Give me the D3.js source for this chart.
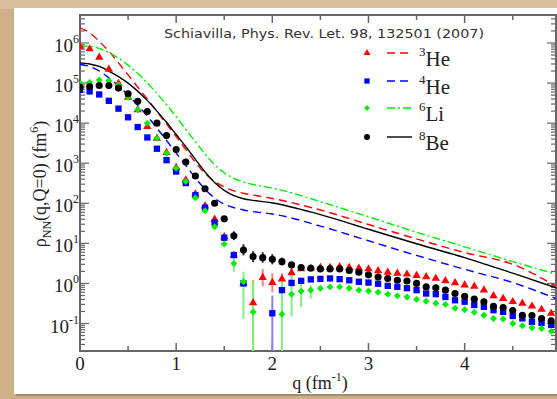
<!DOCTYPE html>
<meta charset="utf-8">
<script src="https://d3js.org/d3.v7.min.js"></script>
<style>
  body { margin: 0; background: #cdb089; }
  svg { display: block; }
</style>
<div id="chart"></div>
<script>

  // ---- data ----
  const nuclei = ["3He", "4He", "6Li", "8Be"];

  // momentum grid for the points (fm^-1)
  const qPts = [0, 0.1, 0.2, 0.3, 0.4, 0.5, 0.6, 0.7, 0.8, 0.9, 1.0, 1.1, 1.2, 1.3, 1.4, 1.5, 1.6, 1.7, 1.8, 1.9,
                2.0, 2.1, 2.2, 2.3, 2.4, 2.5, 2.6, 2.7, 2.8, 2.9, 3.0, 3.1, 3.2, 3.3, 3.4, 3.5, 3.6, 3.7, 3.8, 3.9,
                4.0, 4.1, 4.2, 4.3, 4.4, 4.5, 4.6, 4.7, 4.8, 4.9];

  // VMC points (null = not shown)
  const he3Pts = [8.2e5, 7.1e5, 4.4e5, 2.2e5, 9.8e4, 4.4e4, 2.15e4, 8.2e3, 4.2e3, 1.84e3, 780, 380, 170, 85, 40, 14.6, 5.0, 1.0, 0.33, 1.4,
                  1.05, 1.28, 1.84, 2.3, 2.4, 2.5, 2.5, 2.6, 2.5, 2.4, 2.3, 2.07, 1.9, 1.78, 1.7, 1.58, 1.46, 1.33, 1.16, 1.03,
                  0.91, 0.85, 0.68, 0.49, 0.42, 0.35, 0.32, 0.27, 0.224, 0.178];
  const he4Pts = [6.8e4, 6.2e4, 5.2e4, 3.6e4, 2.3e4, 1.4e4, 8.0e3, 4.4e3, 2.3e3, 1.19e3, 620, 320, 160, 78, 33, 13.8, 5.1, 1.0, null, null,
                  0.18, 0.68, 1.03, 1.16, 1.26, 1.3, 1.33, 1.28, 1.2, 1.1, 1.05, 0.98, 0.87, 0.82, 0.76, 0.68, 0.56, 0.54, 0.46, 0.38,
                  0.35, 0.29, 0.26, 0.215, 0.195, 0.154, 0.134, 0.11, 0.104, 0.092];
  const li6Pts = [1.0e5, 1.03e5, 1.2e5, 1.15e5, 9.1e4, 4.4e4, 2.15e4, 1.0e4, 4.2e3, 1.78e3, 750, 350, 138, 65, 26, 9.6, 3.16, 1.1, 0.195, null,
                  null, 0.17, 0.54, 0.64, 0.68, 0.76, 0.82, 0.82, 0.76, 0.68, 0.65, 0.6, 0.54, 0.49, 0.46, 0.40, 0.36, 0.32, 0.30, 0.24,
                  0.22, 0.19, 0.16, 0.134, 0.13, 0.10, 0.088, 0.078, 0.075, 0.0635];
  const be8Pts = [7.8e4, 8.2e4, 8.7e4, 8.7e4, 7.5e4, 5.4e4, 3.5e4, 1.95e4, 1.0e4, 4.9e3, 2.2e3, 1.07e3, 480, 230, 100, 41, 15.5, 6.8, 4.7, 4.4,
                  4.0, 3.5, 2.9, 2.5, 2.4, 2.3, 2.3, 2.3, 2.1, 1.9, 1.64, 1.44, 1.33, 1.2, 1.15, 1.0, 0.82, 0.78, 0.68, 0.56,
                  0.48, 0.41, 0.35, 0.27, 0.25, 0.21, 0.16, 0.158, 0.133, 0.116];

  // error bars [q, low, high]
  const he3Err = [[1.8, 0.02, 1.2], [1.9, 0.85, 2.3], [2.0, 0.6, 1.8], [2.1, 0.9, 1.8], [2.2, 1.4, 2.4]];
  const he4Err = [[2.0, 0.02, 0.5], [2.1, 0.38, 1.4], [2.2, 0.8, 1.3]];
  const li6Err = [[1.6, 1.95, 4.4], [1.7, 0.13, 1.95], [1.8, 0.02, 1.1], [2.1, 0.02, 1.2], [2.2, 0.15, 1.6], [2.3, 0.26, 1.1], [2.4, 0.42, 0.9]];
  const be8Err = [[1.6, 12, 20], [1.7, 5.0, 9.5], [1.8, 3.4, 6.4], [1.9, 3.3, 6.0], [2.0, 3.0, 5.4], [2.1, 2.8, 4.4]];

  // curves
  const qLine = [0, 0.1, 0.2, 0.3, 0.4, 0.5, 0.6, 0.7, 0.8, 0.9, 1.0, 1.1, 1.2, 1.3, 1.4, 1.5, 1.6, 1.7, 1.8, 1.9, 2.0,
                 2.5, 3.0, 3.5, 4.0, 4.5, 4.95];
  const he3Line = [2.4e6, 1.8e6, 1.1e6, 6.2e5, 3.2e5, 1.6e5, 8.0e4, 4.0e4, 1.95e4, 9.5e3, 4.6e3, 2.2e3, 1.05e3, 560, 350, 255, 205, 178, 160, 146, 132,
                   68, 29.5, 12.9, 5.9, 3.0, 0.85];
  const he4Line = [2.9e5, 2.6e5, 2.0e5, 1.35e5, 8.5e4, 5.0e4, 2.8e4, 1.5e4, 7.5e3, 3.7e3, 1.8e3, 880, 430, 225, 135, 95, 78, 68, 62, 58, 54,
                   27, 11.6, 5.0, 2.25, 1.05, 0.42];
  const li6Line = [8.5e5, 8.3e5, 7.3e5, 5.8e5, 4.2e5, 2.8e5, 1.75e5, 1.0e5, 5.5e4, 2.9e4, 1.45e4, 7.0e3, 3.4e3, 1.7e3, 920, 580, 420, 340, 295, 265, 240,
                   110, 46, 19, 8.2, 3.5, 1.7];
  const be8Line = [3.2e5, 3.0e5, 2.6e5, 2.0e5, 1.45e5, 1.0e5, 6.3e4, 3.7e4, 2.0e4, 1.05e4, 5.2e3, 2.6e3, 1.25e3, 610, 330, 210, 155, 130, 118, 110, 102,
                   52, 22.5, 9.8, 4.4, 1.8, 0.78];

  const xTicks = [0, 1, 2, 3, 4];
  const yExps = [-1, 0, 1, 2, 3, 4, 5, 6];

  // ---- layout ----
  const W = 557, H = 399;
  const pL = 80, pR = 556, pT = 15, pB = 351;

  const svg = d3.select("#chart").append("svg")
    .attr("width", W).attr("height", H);

  // paper background
  svg.append("rect").attr("width", W).attr("height", H).attr("fill", "#cdb089");
  svg.append("rect").attr("x", 0).attr("y", 0).attr("width", W).attr("height", 9).attr("fill", "#d9c09c");
  svg.append("rect").attr("x", 16).attr("y", 11).attr("width", W).attr("height", 385).attr("fill", "#7a6a55").attr("opacity", 0.5);
  svg.append("rect").attr("x", 14).attr("y", 8).attr("width", W).attr("height", 386).attr("fill", "#fff");

  const x = d3.scaleLinear().domain([0, 4.95]).range([pL, pR]);
  const y = d3.scaleLog().domain([0.0206, 5.0e6]).range([pB, pT]);

  const axisColor = "#666";

  // ticks
  const g = svg.append("g");
  const xMinor = d3.range(0.5, 4.95, 1);
  xTicks.concat(xMinor).forEach(t => {
    const len = Number.isInteger(t) ? 8 : 5;
    g.append("line").attr("x1", x(t)).attr("x2", x(t)).attr("y1", pB).attr("y2", pB - len)
      .attr("stroke", axisColor).attr("stroke-width", 1.5);
    g.append("line").attr("x1", x(t)).attr("x2", x(t)).attr("y1", pT).attr("y2", pT + len)
      .attr("stroke", axisColor).attr("stroke-width", 1.5);
  });
  for (let e = -2; e <= 6; e++) {
    for (let m = 1; m <= 9; m++) {
      const v = m * Math.pow(10, e);
      if (v < y.domain()[0] || v > y.domain()[1]) continue;
      const len = m === 1 ? 9 : 5;
      g.append("line").attr("x1", pL).attr("x2", pL + len).attr("y1", y(v)).attr("y2", y(v))
        .attr("stroke", axisColor).attr("stroke-width", 1.2);
      g.append("line").attr("x1", pR).attr("x2", pR - len).attr("y1", y(v)).attr("y2", y(v))
        .attr("stroke", axisColor).attr("stroke-width", 1.2);
    }
  }
  // frame
  g.append("rect").attr("x", pL).attr("y", pT).attr("width", pR - pL).attr("height", pB - pT)
    .attr("fill", "none").attr("stroke", axisColor).attr("stroke-width", 2);

  // tick labels
  const serif = "'Liberation Serif', 'DejaVu Serif', serif";
  svg.append("g").selectAll("text").data(xTicks).join("text")
    .attr("x", d => x(d)).attr("y", 370)
    .attr("text-anchor", "middle").attr("font-family", serif).attr("font-size", 19).attr("fill", "#222")
    .text(d => d);

  const yl = svg.append("g").selectAll("text").data(yExps).join("text")
    .attr("x", 79).attr("y", d => y(Math.pow(10, d)) + 9)
    .attr("text-anchor", "end").attr("font-family", serif).attr("font-size", 19).attr("fill", "#222");
  yl.append("tspan").text("10");
  yl.append("tspan").attr("dy", -9).attr("font-size", 12).text(d => d);

  // axis titles
  const xt = svg.append("text").attr("x", 320).attr("y", 389).attr("text-anchor", "middle")
    .attr("font-family", serif).attr("font-size", 18).attr("fill", "#222");
  xt.append("tspan").text("q (fm");
  xt.append("tspan").attr("dy", -8).attr("font-size", 12).text("-1");
  xt.append("tspan").attr("dy", 8).text(")");

  const yt = svg.append("text").attr("transform", "translate(46,184) rotate(-90)").attr("text-anchor", "middle")
    .attr("font-family", serif).attr("font-size", 18).attr("fill", "#222");
  yt.append("tspan").text("ρ");
  yt.append("tspan").attr("dy", 5).attr("font-size", 12).text("NN");
  yt.append("tspan").attr("dy", -5).text("(q,Q=0) (fm");
  yt.append("tspan").attr("dy", -8).attr("font-size", 12).text("6");
  yt.append("tspan").attr("dy", 8).text(")");

  // title
  svg.append("text").attr("x", 324).attr("y", 38).attr("text-anchor", "middle")
    .attr("font-family", "'DejaVu Sans', sans-serif").attr("font-size", 13).attr("fill", "#333")
    .attr("textLength", 320).attr("lengthAdjust", "spacingAndGlyphs")
    .text("Schiavilla, Phys. Rev. Let. 98, 132501 (2007)");

  // series (green markers are small squares turned 45 degrees)
  const series = [
    {name: nuclei[0], pts: he3Pts, err: he3Err, line: he3Line, color: "#ff0000", errColor: "#ff8080", dash: "8,5", sym: d3.symbolTriangle, size: 30, rot: 0},
    {name: nuclei[1], pts: he4Pts, err: he4Err, line: he4Line, color: "#0000ff", errColor: "#8080ff", dash: "8,5", sym: d3.symbolSquare, size: 40, rot: 0},
    {name: nuclei[2], pts: li6Pts, err: li6Err, line: li6Line, color: "#00ee00", errColor: "#80f080", dash: "8,3,2,3", sym: d3.symbolSquare, size: 24, rot: 45},
    {name: nuclei[3], pts: be8Pts, err: be8Err, line: be8Line, color: "#000000", errColor: "#333333", dash: null, sym: d3.symbolCircle, size: 40, rot: 0}
  ];

  const plot = svg.append("g");
  plot.append("clipPath").attr("id", "clip").append("rect")
    .attr("x", pL).attr("y", pT).attr("width", pR - pL).attr("height", pB - pT);
  const inner = plot.append("g").attr("clip-path", "url(#clip)");

  const lineGen = d3.line().x(d => x(d[0])).y(d => y(d[1])).curve(d3.curveMonotoneX);

  // lines
  series.forEach(s => {
    inner.append("path")
      .datum(qLine.map((q, i) => [q, s.line[i]]))
      .attr("d", lineGen)
      .attr("fill", "none").attr("stroke", s.color).attr("stroke-width", 1.4)
      .attr("stroke-dasharray", s.dash);
  });

  // error bars
  series.forEach(s => {
    inner.append("g").selectAll("line").data(s.err).join("line")
      .attr("x1", d => x(d[0])).attr("x2", d => x(d[0]))
      .attr("y1", d => y(d[1])).attr("y2", d => y(d[2]))
      .attr("stroke", s.errColor).attr("stroke-width", 2);
  });

  // markers
  series.forEach(s => {
    const pts = qPts.map((q, i) => [q, s.pts[i]]).filter(d => d[1] != null);
    inner.append("g").selectAll("path").data(pts).join("path")
      .attr("transform", d => `translate(${x(d[0])},${y(d[1])}) rotate(${s.rot})`)
      .attr("d", d3.symbol().type(s.sym).size(s.size))
      .attr("fill", s.color);
  });

  // legend
  const leg = svg.append("g");
  const legY = [53, 81, 108, 137];
  series.forEach((s, i) => {
    const ly = legY[i];
    leg.append("path").attr("transform", `translate(367,${ly}) rotate(${s.rot})`)
      .attr("d", d3.symbol().type(s.sym).size(s.size * 0.7)).attr("fill", s.color);
    leg.append("line").attr("x1", 387).attr("x2", 412).attr("y1", ly).attr("y2", ly)
      .attr("stroke", s.color).attr("stroke-width", 1.4).attr("stroke-dasharray", s.dash);
    const t = leg.append("text").attr("x", 419).attr("y", ly + 13)
      .attr("font-family", serif).attr("font-size", 21).attr("fill", "#222");
    t.append("tspan").attr("dy", -10).attr("font-size", 13).text(s.name.slice(0, 1));
    t.append("tspan").attr("dy", 10).text(s.name.slice(1));
  });
</script>
